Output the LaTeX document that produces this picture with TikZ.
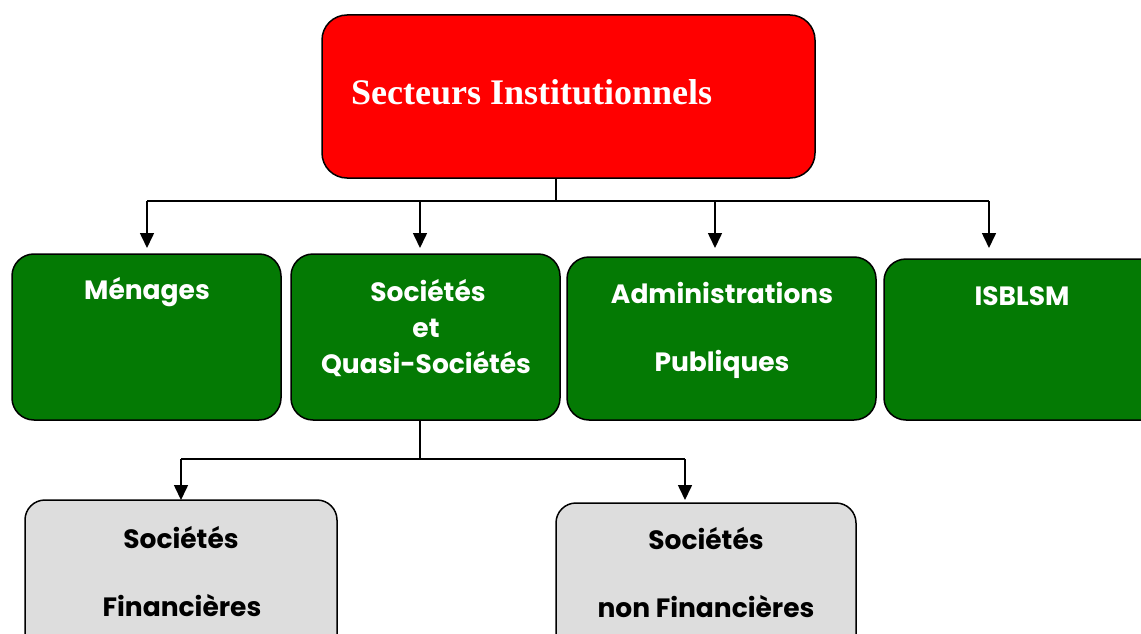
\documentclass[tikz,border=0pt]{standalone}
\usepackage{fontspec}
\setmainfont{Liberation Serif}
\newfontfamily\gothic{Poppins}
\usetikzlibrary{arrows.meta}
\definecolor{boxred}{RGB}{255,0,0}
\definecolor{boxgreen}{RGB}{4,122,4}
\definecolor{boxgray}{RGB}{221,221,221}
\tikzset{
  box/.style={draw=black, line width=1.5pt, inner sep=0pt, outer sep=0pt, anchor=north west},
  redbox/.style={box, fill=boxred, rounded corners=25pt},
  greenbox/.style={box, fill=boxgreen, rounded corners=22pt},
  graybox/.style={box, fill=boxgray, rounded corners=20pt},
  wtxt/.style={anchor=base, inner sep=0pt, text=white, font=\gothic\bfseries\fontsize{26.5}{30}\selectfont},
  btxt/.style={anchor=base, inner sep=0pt, text=black, font=\gothic\bfseries\fontsize{26.5}{30}\selectfont},
  conn/.style={draw=black, line width=1.6pt},
  arr/.style={conn, -{Triangle[length=15pt,width=14pt]}}
}
\begin{document}
\begin{tikzpicture}[x=1pt,y=-1pt]
\useasboundingbox (0,0) rectangle (1141,634);
\clip (0,0) rectangle (1141,634);
% boxes
\node[redbox, minimum width=493pt, minimum height=163pt] (top) at (322,15) {};
\node[greenbox, minimum width=269pt, minimum height=166pt] (men) at (12,254) {};
\node[greenbox, minimum width=269pt, minimum height=166pt] (soc) at (291,254) {};
\node[greenbox, minimum width=309pt, minimum height=163pt] (adm) at (567,257) {};
\node[greenbox, minimum width=290pt, minimum height=161pt] (isb) at (884,259) {};
\node[graybox, minimum width=312pt, minimum height=160pt] (sf) at (25,500) {};
\node[graybox, minimum width=300pt, minimum height=160pt] (snf) at (556,503) {};
% texts
\node[anchor=base west, inner sep=0pt, text=white, font=\bfseries\fontsize{36}{40}\selectfont] (ttop) at (351,104) {Secteurs Institutionnels};
\node[wtxt] (tmen) at (147,299) {Ménages};
\node[wtxt] (tsoc1) at (428,301) {Sociétés};
\node[wtxt] (tsoc2) at (426,337) {et};
\node[wtxt] (tsoc3) at (426,373) {Quasi-Sociétés};
\node[wtxt] (tadm1) at (722,303) {Administrations};
\node[wtxt] (tadm2) at (722,371) {Publiques};
\node[wtxt] (tisb) at (1022,305) {ISBLSM};
\node[btxt] (tsf1) at (181,548) {Sociétés};
\node[btxt] (tsf2) at (182,616) {Financières};
\node[btxt] (tsnf1) at (706,549) {Sociétés};
\node[btxt] (tsnf2) at (706,617) {non Financières};
% connectors
\coordinate (j1) at (556,201);
\coordinate (hl) at (147,201);
\coordinate (hs) at (420,201);
\coordinate (ha) at (715,201);
\coordinate (hr) at (989,201);
\draw[conn] (top.south -| j1) -- (j1);
\draw[conn] (hl) -- (hr);
\draw[arr, shorten >=6pt] (hl) -- (hl |- men.north);
\draw[arr, shorten >=6pt] (hs) -- (hs |- soc.north);
\draw[arr, shorten >=9pt] (ha) -- (ha |- adm.north);
\draw[arr, shorten >=11pt] (hr) -- (hr |- isb.north);
\coordinate (j2) at (420,459);
\coordinate (bl) at (181,459);
\coordinate (br) at (685,459);
\draw[conn] (soc.south -| j2) -- (j2);
\draw[conn] (bl) -- (br);
\draw[arr] (bl) -- (bl |- sf.north);
\draw[arr, shorten >=3pt] (br) -- (br |- snf.north);
\end{tikzpicture}
\end{document}
